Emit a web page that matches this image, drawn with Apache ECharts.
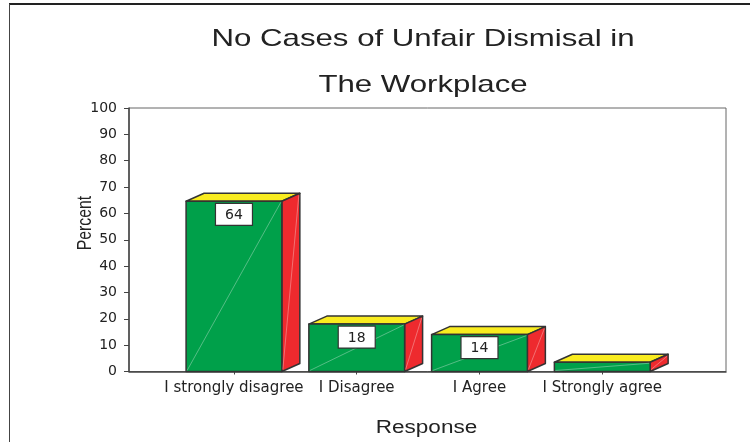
<!DOCTYPE html>
<html>
<head>
<meta charset="utf-8">
<style>
  html, body { margin: 0; padding: 0; background: #fff; }
  #chart { width: 750px; height: 442px; }
</style>
</head>
<body>
<div id="chart"></div>
<script src="https://cdn.jsdelivr.net/npm/echarts@6/dist/echarts.min.js"></script>
<script>
  var categories = ['I strongly disagree', 'I Disagree', 'I Agree', 'I Strongly agree'];
  var percent = [64.6, 18, 14, 3.5];
  var barLabels = ['64', '18', '14', ''];
  var yTicks = [0, 10, 20, 30, 40, 50, 60, 70, 80, 90, 100];

  var chart = echarts.init(document.getElementById('chart'));

  // one bar: front, top and side faces plus the value box
  function renderBar(params, api) {
    var i = api.value(0);
    var left = api.coord([i - 0.39, api.value(1)]);
    var right = api.coord([i + 0.39, 0]);
    var x0 = left[0], y0 = left[1], x1 = right[0], y1 = right[1];
    var dx = 18, dy = 8;
    var edge = { stroke: '#333', lineWidth: 1.5, lineJoin: 'round' };
    var kids = [
      { type: 'polygon', shape: { points: [[x0, y0], [x0 + dx, y0 - dy], [x1 + dx, y0 - dy], [x1, y0]] },
        style: Object.assign({ fill: '#f9ec1f' }, edge) },
      { type: 'polygon', shape: { points: [[x1, y0], [x1 + dx, y0 - dy], [x1 + dx, y1 - dy], [x1, y1]] },
        style: Object.assign({ fill: '#ee2a2e' }, edge) },
      { type: 'rect', shape: { x: x0, y: y0, width: x1 - x0, height: y1 - y0 },
        style: Object.assign({ fill: '#00a04a' }, edge) },
      { type: 'line', shape: { x1: x0 + 1, y1: y1 - 1, x2: x1 - 1, y2: y0 + 1 },
        style: { stroke: '#8fd0ac', lineWidth: 0.6 } },
      { type: 'line', shape: { x1: x1 + 1, y1: y1 - 2, x2: x1 + dx - 1, y2: y0 - dy + 2 },
        style: { stroke: '#f5a0a0', lineWidth: 0.6 } }
    ];
    var label = barLabels[i];
    if (label) {
      var cx = (x0 + x1) / 2;
      kids.push({ type: 'rect', shape: { x: cx - 18.5, y: y0 + 2, width: 37, height: 22 },
        style: { fill: '#fff', stroke: '#333', lineWidth: 1.2 } });
      kids.push({ type: 'text', style: { x: cx, y: y0 + 14, text: label, fill: '#222',
        font: '14px "DejaVu Sans"', textAlign: 'center', textVerticalAlign: 'middle' } });
    }
    return { type: 'group', children: kids };
  }

  // the original's lettering is stretched, so these texts are scaled
  function stretchedText(text, x, y, size, scaleX, rotation, lineHeight) {
    return {
      type: 'text', silent: true, x: x, y: y, scaleX: scaleX, rotation: rotation || 0,
      style: {
        text: text, fill: '#222', textAlign: 'center', verticalAlign: 'middle',
        fontFamily: 'Liberation Sans', fontSize: size, lineHeight: lineHeight
      }
    };
  }

  chart.setOption({
    animation: false,
    backgroundColor: '#fff',
    grid: {
      left: 129, top: 108, width: 597, height: 263.5,
      show: true, borderColor: '#666', borderWidth: 1, backgroundColor: 'transparent'
    },
    xAxis: {
      type: 'value',
      min: -0.855,
      max: 4.008,
      splitLine: { show: false },
      axisLine: { lineStyle: { color: '#444', width: 1.5 } },
      axisTick: { length: 3, customValues: [0, 1, 2, 3], lineStyle: { color: '#444' } },
      axisLabel: {
        customValues: [0, 1, 2, 3],
        formatter: function (v) { return categories[v]; },
        fontFamily: 'DejaVu Sans', fontSize: 15, color: '#222', margin: 9
      }
    },
    yAxis: {
      type: 'value',
      min: 0,
      max: 100,
      interval: 10,
      splitLine: { show: false },
      axisLine: { show: true, onZero: false, lineStyle: { color: '#444', width: 1.5 } },
      axisTick: { show: true, length: 5, lineStyle: { color: '#444' } },
      axisLabel: {
        formatter: function (v) { return yTicks.indexOf(v) >= 0 ? String(v) : ''; },
        fontFamily: 'DejaVu Sans', fontSize: 14, color: '#222', margin: 12
      }
    },
    graphic: [
      { type: 'line', silent: true, shape: { x1: 9, y1: 4, x2: 750, y2: 4 }, style: { stroke: '#222', lineWidth: 2 } },
      { type: 'line', silent: true, shape: { x1: 9.5, y1: 4, x2: 9.5, y2: 442 }, style: { stroke: '#444', lineWidth: 1 } },
      stretchedText('No Cases of Unfair Dismisal in\nThe Workplace', 423, 62, 24, 1.3, 0, 46),
      stretchedText('Response', 426.5, 428.5, 18, 1.25),
      stretchedText('Percent', 85, 223, 21, 0.75, Math.PI / 2)
    ],
    series: [{
      type: 'custom',
      clip: false,
      renderItem: renderBar,
      encode: { x: 0, y: 1 },
      data: percent.map(function (v, i) { return [i, v]; })
    }]
  });
</script>
</body>
</html>
